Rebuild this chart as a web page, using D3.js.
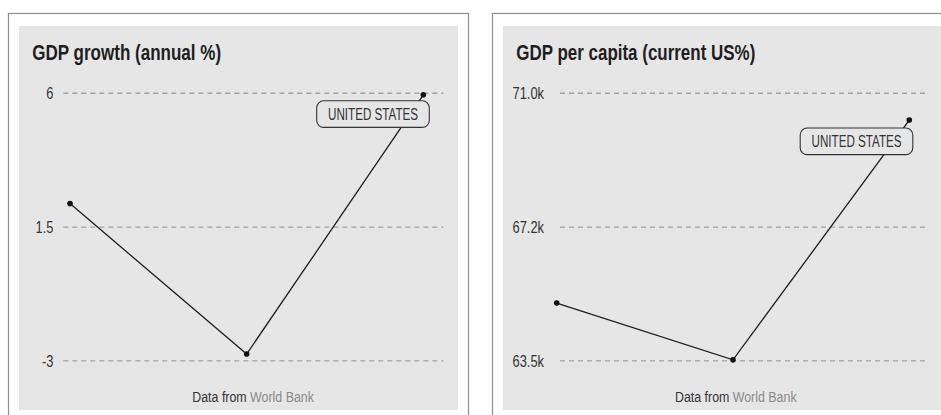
<!DOCTYPE html>
<html>
<head>
<meta charset="utf-8">
<script src="https://cdn.jsdelivr.net/npm/d3@7"></script>
<style>
  html, body { margin: 0; padding: 0; background: #ffffff; }
  svg { display: block; }
  text { font-family: "Liberation Sans Narrow", "Arial Narrow", "Liberation Sans", Arial, sans-serif; }
</style>
</head>
<body>
<svg id="chart" width="941" height="415"></svg>
<script>
// ---------- data ----------
const years = ["2019", "2020", "2021"];
const growthValues = [2.29, -2.77, 5.95];
const gdpPerCapitaValues = [65120, 63530, 70250];
const growthTicks = [-3, 1.5, 6];
const growthTickLabels = ["-3", "1.5", "6"];
const gdpTicks = [63500, 67250, 71000];
const gdpTickLabels = ["63.5k", "67.2k", "71.0k"];
const panelTitles = ["GDP growth (annual %)", "GDP per capita (current US%)"];
const countryName = "UNITED STATES";
const sourcePrefix = "Data from";
const sourceName = "World Bank";

// ---------- layout ----------
const panels = [
  {
    ox: 8, title: panelTitles[0], titleW: 189,
    values: growthValues, domain: [-3, 6], ticks: growthTicks, tickLabels: growthTickLabels,
    xRange: [62, 415.3], gridX: [55.3, 435.3], labelX: 45.5,
    footerX: 184.3, boxDx: 6, boxDy: 6
  },
  {
    ox: 492, title: panelTitles[1], titleW: 239,
    values: gdpPerCapitaValues, domain: [63500, 71000], ticks: gdpTicks, tickLabels: gdpTickLabels,
    xRange: [64.7, 417.3], gridX: [68, 434], labelX: 52,
    footerX: 183, boxDx: 3.5, boxDy: 8
  }
];

const svg = d3.select("#chart");
const BG = "#e6e6e7";

// text drawn in a regular face and horizontally squeezed to a condensed look
function addText(parent, x, y, str, o) {
  const t = parent.append("text")
    .attr("x", 0).attr("y", 0)
    .attr("font-size", o.size)
    .attr("font-weight", o.weight || "normal")
    .attr("fill", o.fill || "#333")
    .attr("text-anchor", o.anchor || "start")
    .text(str);
  const w = t.node().getComputedTextLength();
  const sx = o.width ? o.width / w : (o.k || 0.8);
  t.attr("transform", `translate(${x},${y}) scale(${sx},1)`);
  return t;
}

panels.forEach(p => {
  const g = svg.append("g").attr("transform", `translate(${p.ox},13)`);

  // outer frame
  g.append("rect")
    .attr("x", 0.5).attr("y", 0.5)
    .attr("width", 460).attr("height", 420)
    .attr("fill", "#ffffff")
    .attr("stroke", "#8f8f8f").attr("stroke-width", 1.2);

  // inner panel
  g.append("rect")
    .attr("x", 11).attr("y", 13)
    .attr("width", 439).attr("height", 384)
    .attr("fill", BG);

  // title
  addText(g, 24.3, 47, p.title, { size: 21.5, weight: "bold", fill: "#1e1e1e", width: p.titleW });

  const x = d3.scalePoint().domain(years).range(p.xRange);
  const y = d3.scaleLinear().domain(p.domain).range([347.9, 80.3]);

  // gridlines
  g.append("g").selectAll("line")
    .data(p.ticks)
    .join("line")
    .attr("x1", p.gridX[0]).attr("x2", p.gridX[1])
    .attr("y1", d => y(d)).attr("y2", d => y(d))
    .attr("stroke", "#a3a3a3").attr("stroke-width", 1.4)
    .attr("stroke-dasharray", "5,4");

  // axis labels (axis generator places the ticks; labels re-set condensed)
  const yAxis = d3.axisLeft(y)
    .tickValues(p.ticks)
    .tickFormat((d, i) => p.tickLabels[i])
    .tickSize(0)
    .tickPadding(0);
  const ag = g.append("g").attr("transform", `translate(${p.labelX},0)`).call(yAxis);
  ag.select(".domain").remove();
  ag.selectAll(".tick line").remove();
  ag.selectAll(".tick").each(function (d, i) {
    const tk = d3.select(this);
    tk.select("text").remove();
    addText(tk, 0, 5.6, p.tickLabels[i], { size: 16.5, fill: "#333", anchor: "end", k: 0.78 });
  });

  // line
  const line = d3.line().x((d, i) => x(years[i])).y(d => y(d));
  g.append("path")
    .datum(p.values)
    .attr("d", line)
    .attr("fill", "none")
    .attr("stroke", "#1e1e1e").attr("stroke-width", 1.3);

  g.append("g").selectAll("circle")
    .data(p.values)
    .join("circle")
    .attr("cx", (d, i) => x(years[i]))
    .attr("cy", d => y(d))
    .attr("r", 2.8)
    .attr("fill", "#111");

  // country label box
  const last = p.values.length - 1;
  const px = x(years[last]), py = y(p.values[last]);
  const bw = 112.6, bh = 26.6;
  const bx = px + p.boxDx - bw, by = py + p.boxDy;
  g.append("rect")
    .attr("x", bx).attr("y", by)
    .attr("width", bw).attr("height", bh)
    .attr("rx", 7).attr("ry", 7)
    .attr("fill", BG)
    .attr("stroke", "#333").attr("stroke-width", 1.1);
  addText(g, bx + bw / 2, by + bh / 2 + 5.8, countryName, { size: 16.5, fill: "#333", anchor: "middle", width: 90 });

  // footer
  addText(g, p.footerX, 388.7, sourcePrefix, { size: 15.5, fill: "#333", width: 54.4 });
  addText(g, p.footerX + 57.7, 388.7, sourceName, { size: 15.5, fill: "#8a8a8a", width: 64 });
});
</script>
</body>
</html>
